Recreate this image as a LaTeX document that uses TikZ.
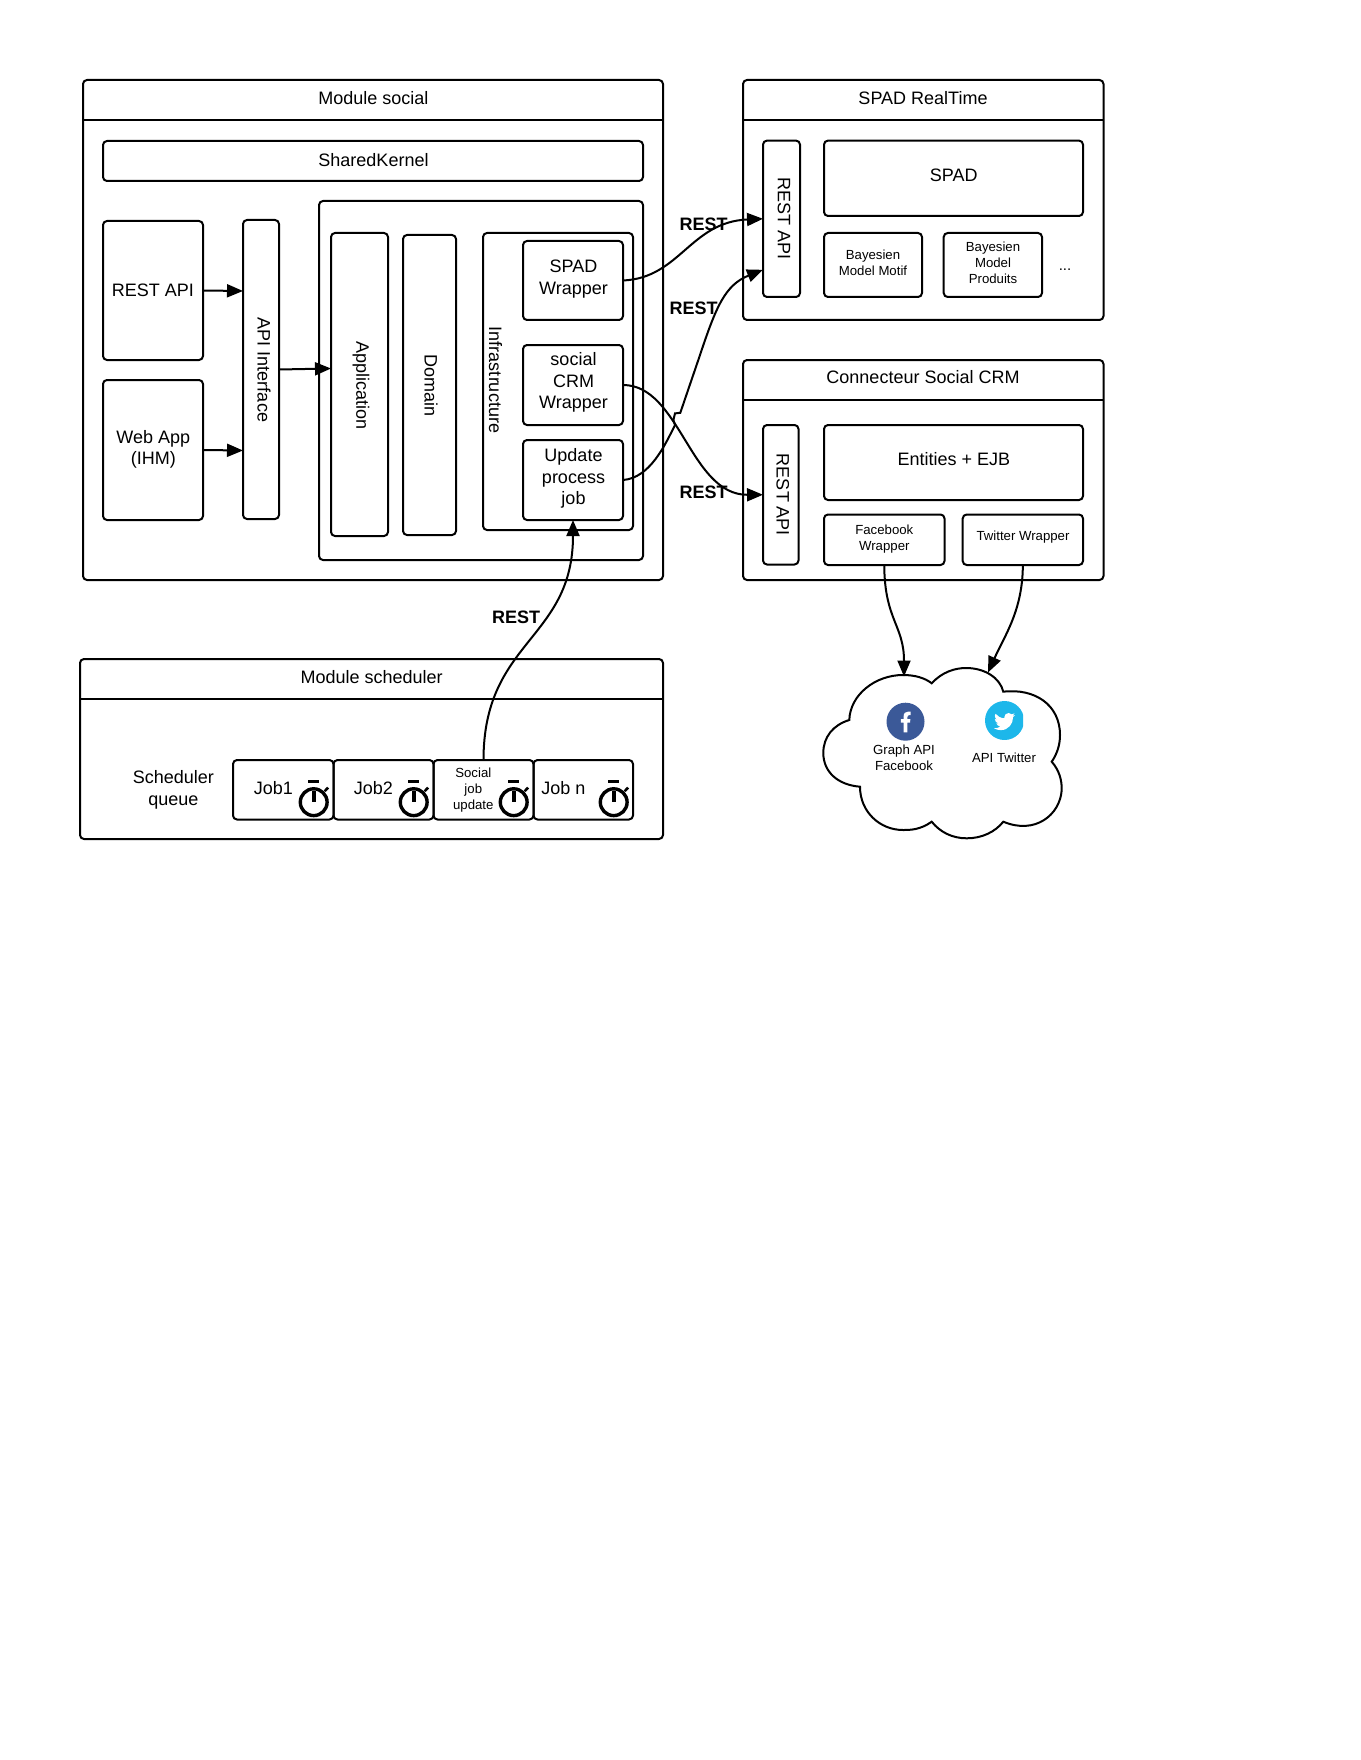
\documentclass[tikz,border=0pt]{standalone}
\usepackage{fontspec}
\setmainfont{Liberation Sans}
\usetikzlibrary{arrows.meta,calc}
\newcommand\frm[5]{\pgfmathsetmacro\cxx{(#2+#4)/2}\pgfmathsetmacro\cyy{(#3+#5)/2}\pgfmathsetmacro\ww{#4-#2}\pgfmathsetmacro\hh{#5-#3}\node[boxnode,minimum width=\ww pt,minimum height=\hh pt] (#1) at (\cxx,\cyy) {};}
\tikzset{
  boxnode/.style={draw=black,line width=2pt,rounded corners=4pt,inner sep=0pt,outer sep=0pt},
  txt/.style={font=\fontsize{18}{21.5}\selectfont,align=center,inner sep=0pt,text=black},
  small/.style={font=\fontsize{13.2}{16}\selectfont,align=center,inner sep=0pt,text=black},
  resttxt/.style={font=\fontsize{18}{21.5}\selectfont\bfseries,inner sep=0pt,text=black},
  hdr/.style={line width=2pt},
  conn/.style={line width=2pt,-{Triangle[length=16pt,width=13pt]}},
  stopwatch/.pic={
    \draw[line width=3.4pt] (0,0) circle (13.4);
    \draw[line width=3.6pt] (0,-11) -- (0,0);
    \draw[line width=3.2pt] (-5.4,-20.8) -- (5.4,-20.8);
    \draw[line width=2.6pt] (11,-11) -- (14.4,-14.6);
  }
}
\begin{document}
\begin{tikzpicture}[x=1pt,y=-1pt]
\useasboundingbox[fill=white] (0,0) rectangle (1360,1760);
% Module social
\frm{ms}{83}{80}{663}{580}
\draw[hdr] ([yshift=-40pt]ms.north west) -- ([yshift=-40pt]ms.north east);
\node[txt] (mst) at (373.5,97.8) {Module social};
\frm{sk}{103}{141}{643}{181}
\node[txt] (skt) at (373.5,159.6) {SharedKernel};
\frm{inner}{319}{201}{643}{560}
\frm{restbox}{103}{221}{203}{360}
\node[txt] (restt) at (153,290) {REST API};
\frm{webapp}{103}{380}{203}{520}
\node[txt] (webt) at (153.3,449.5) {Web App\\(IHM)};
\frm{apiif}{243}{220}{279}{519}
\node[txt,rotate=-90] (apit) at (264,370) {API Interface};
\frm{appl}{331}{233}{388}{536}
\node[txt,rotate=-90] (applt) at (361,385.2) {Application};
\frm{domain}{403}{235}{456}{535}
\node[txt,rotate=-90] (domt) at (431,385.5) {Domain};
\frm{infra}{483}{233}{633}{530}
\node[txt,rotate=-90] (inft) at (495.6,380) {Infrastructure};
\frm{spadw}{523}{241}{623}{320}
\node[txt] (spadwt) at (573.5,279) {SPAD\\Wrapper};
\frm{crmw}{523}{345}{623}{425}
\node[txt] (crmwt) at (573.5,382.8) {social\\CRM\\Wrapper};
\frm{update}{523}{440}{623}{520}
\node[txt] (updatet) at (573.5,478.8) {Update\\process\\job};
% SPAD RealTime
\frm{sr}{743}{80}{1103.5}{320}
\draw[hdr] ([yshift=-40pt]sr.north west) -- ([yshift=-40pt]sr.north east);
\node[txt] (srt) at (923,98.2) {SPAD RealTime};
\frm{rest1}{763}{140.6}{800}{297}
\node[txt,rotate=-90] (rest1t) at (784,219) {REST API};
\frm{spad}{824}{140.6}{1083}{216}
\node[txt] (spadt) at (953.8,175.5) {SPAD};
\frm{bmm}{824}{233}{922}{297}
\node[small] (bmmt) at (873,263) {Bayesien\\Model Motif};
\frm{bmp}{943.7}{233}{1042}{297}
\node[small] (bmpt) at (993,263) {Bayesien\\Model\\Produits};
\node[txt,font=\fontsize{15}{18}\selectfont] (dots) at (1065,270) {...};
% Connecteur
\frm{cc}{743}{360}{1103.5}{580}
\draw[hdr] ([yshift=-40pt]cc.north west) -- ([yshift=-40pt]cc.north east);
\node[txt] (cct) at (923,377) {Connecteur Social CRM};
\frm{rest2}{763}{425}{798.5}{564.5}
\node[txt,rotate=-90] (rest2t) at (782.7,495) {REST API};
\frm{ent}{824}{425}{1083}{500}
\node[txt] (entt) at (953.8,458.7) {Entities + EJB};
\frm{fbw}{824}{514.5}{944.5}{565}
\node[small] (fbwt) at (884.3,539.5) {Facebook\\Wrapper};
\frm{twm}{962.7}{514.5}{1083}{565}
\node[small] (twmt) at (1023,537) {Twitter Wrapper};
% Scheduler
\frm{sch}{80}{659}{663}{839}
\draw[hdr] ([yshift=-40pt]sch.north west) -- ([yshift=-40pt]sch.north east);
\node[txt] (scht) at (371.6,677.5) {Module scheduler};
\node[txt] (schq) at (173.3,790) {Scheduler\\queue};
\frm{job1}{233}{760}{333.5}{819.5}
\frm{job2}{333.5}{760}{433.5}{819.5}
\frm{job3}{433.5}{760}{533.5}{819.5}
\frm{job4}{533.5}{760}{633}{819.5}
\node[txt] (job1t) at (273.3,788) {Job1};
\node[txt] (job2t) at (373.3,788) {Job2};
\node[small] (job3t) at (473.3,790) {Social\\job\\update};
\node[txt] (job4t) at (563.3,788) {Job n};
\pic at (313.7,802.2) {stopwatch};
\pic at (413.7,802.2) {stopwatch};
\pic at (513.7,802.2) {stopwatch};
\pic at (613.7,802.2) {stopwatch};
% Cloud
\draw[line width=2pt,line join=miter]
  (931.7,683.3) .. controls (942,672) and (955,668) .. (966,668)
  .. controls (985,668) and (1000,678) .. (1003.3,691.7)
  .. controls (1035,688) and (1060,705) .. (1060,735)
  .. controls (1060,745) and (1057,754) .. (1051.7,761.7)
  .. controls (1059,770) and (1062,780) .. (1061.7,790)
  .. controls (1060,815) and (1035,835) .. (1003.3,821.7)
  .. controls (995,832) and (982,838.3) .. (966.7,838.3)
  .. controls (952,838.3) and (940,832) .. (931.7,821.7)
  .. controls (920,830) and (910,830) .. (903,830)
  .. controls (880,830) and (860,812) .. (860,786.7)
  .. controls (838,785) and (823.3,772) .. (823.3,753)
  .. controls (823.3,737) and (833,725) .. (849.3,720)
  .. controls (850,695) and (875,675) .. (903,675)
  .. controls (915,675) and (925,678) .. (931.7,683.3) -- cycle;
\coordinate (cloudf) at (904,676.5);
\coordinate (cloudt) at (988,672.5);
% Facebook icon
\fill[fill={rgb,255:red,59;green,89;blue,152}] (905.5,721.7) circle (19);
\fill[white] (903.6,732.3) -- (903.6,722.5) -- (900.8,722.5) -- (900.8,719) -- (903.6,719) -- (903.6,716.5)
  .. controls (903.6,713) and (905.5,711.7) .. (908,711.7) -- (910.5,711.7) -- (910.5,715.2) -- (908.7,715.2)
  .. controls (907.5,715.2) and (907.3,715.8) .. (907.3,716.8) -- (907.3,719) -- (910.4,719) -- (910,722.5)
  -- (907.3,722.5) -- (907.3,732.3) -- cycle;
\node[small] (gapi) at (904,758) {Graph API\\Facebook};
% Twitter icon
\begin{scope}
\clip (980,700) rectangle (1023,739.3);
\fill[fill={rgb,255:red,29;green,183;blue,234}] (1004.5,720.5) circle (19.5);
\end{scope}
\begin{scope}[xshift=994pt,yshift=-711pt,x=.88pt,y=-.88pt]
\fill[white] (23.95,4.57) .. controls (23.1,4.95) and (22.1,5.2) .. (21.13,5.35)
 .. controls (22.15,4.75) and (22.9,3.75) .. (23.29,2.62) .. controls (22.34,3.18) and (21.29,3.58) .. (20.16,3.8)
 .. controls (19.27,2.85) and (18,2.26) .. (16.6,2.26) .. controls (13.88,2.26) and (11.68,4.46) .. (11.68,7.18)
 .. controls (11.68,7.57) and (11.72,7.94) .. (11.8,8.3) .. controls (7.69,8.1) and (4.07,6.13) .. (1.64,3.16)
 .. controls (1.22,3.89) and (0.97,4.73) .. (0.97,5.64) .. controls (0.97,7.35) and (1.84,8.85) .. (3.16,9.73)
 .. controls (2.36,9.7) and (1.6,9.48) .. (0.93,9.12) -- (0.93,9.18) .. controls (0.93,11.56) and (2.63,13.55) .. (4.88,14.01)
 .. controls (4.17,14.2) and (3.4,14.23) .. (2.66,14.09) .. controls (3.3,16.04) and (5.12,17.46) .. (7.27,17.5)
 .. controls (5.58,18.83) and (3.45,19.6) .. (1.17,19.6) .. controls (0.78,19.6) and (0.39,19.58) .. (0,19.54)
 .. controls (2.19,20.93) and (4.78,21.75) .. (7.56,21.75) .. controls (16.6,21.75) and (21.56,14.25) .. (21.56,7.76)
 .. controls (21.56,7.55) and (21.56,7.34) .. (21.54,7.13) .. controls (22.5,6.44) and (23.34,5.57) .. (24,4.59) -- cycle;
\end{scope}
\node[small] (tapi) at (1004,758) {API Twitter};
% Connectors
\draw[conn] (restbox.east) -- ([yshift=-0.5pt]apiif.west |- restbox.east);
\draw[conn] (webapp.east) -- ([yshift=-0.5pt]apiif.west |- webapp.east);
\draw[conn] (apiif.east) -- ([yshift=1pt]appl.west |- apiif.east);
\draw[conn] (spadw.east) .. controls (680,278) and (690,222) .. (rest1.west);
\draw[conn] (update.east) .. controls (650,478) and (665,445) .. (675,425)
  -- (673.4,420) -- (675,413.4) -- (680.3,412.8) -- (700,355)
  .. controls (716,307) and (725,285) .. ([yshift=-51pt]rest1.west);
\draw[conn] (crmw.east) .. controls (680,385) and (690,495) .. (rest2.west);
\draw[conn] (job3.north) .. controls (483.5,640) and (573,640) .. (update.south);
\draw[conn] (fbw.south) .. controls (884.5,620) and (904,625) .. (cloudf);
\draw[conn] (twm.south) .. controls (1022.7,610) and (1005,635) .. (cloudt);
% REST labels
\node[resttxt] (r1) at (703.5,224) {REST};
\node[resttxt] (r2) at (693.5,308) {REST};
\node[resttxt] (r3) at (703.5,492.5) {REST};
\node[resttxt] (r4) at (516,617) {REST};
\end{tikzpicture}
\end{document}
